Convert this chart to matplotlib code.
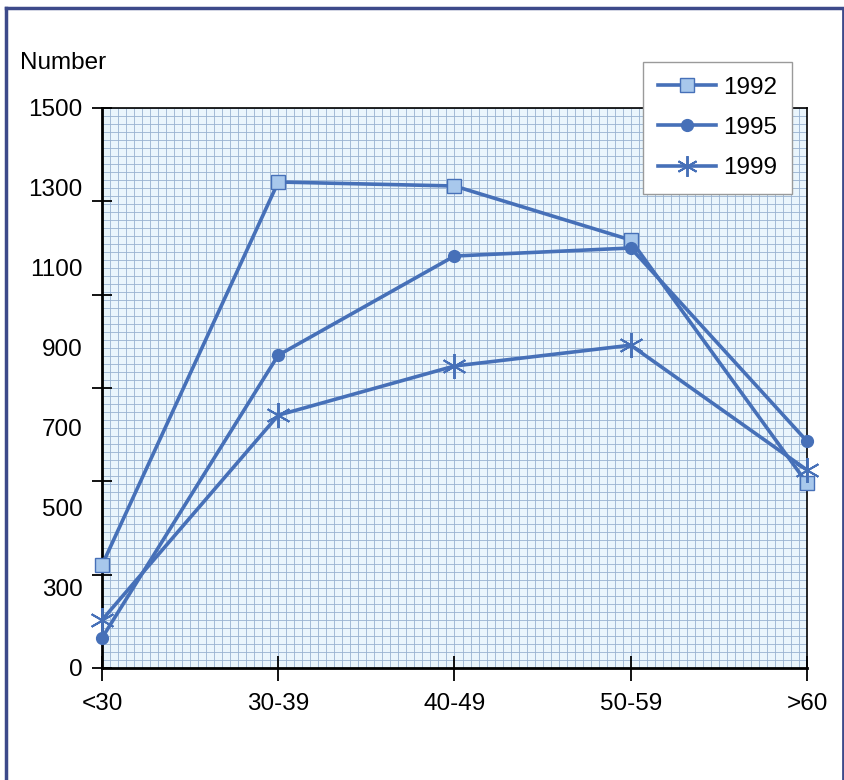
import numpy as np
import matplotlib.pyplot as plt
from matplotlib.lines import Line2D

plt.rcParams['font.family'] = ['Liberation Sans', 'DejaVu Sans']

# ---- data ----
age_groups = ['<30', '30-39', '40-49', '50-59', '>60']
n_1992 = [357, 1315, 1305, 1170, 562]
n_1995 = [175, 882, 1130, 1150, 667]
n_1999 = [220, 732, 855, 907, 595]
ytick_vals = [100, 300, 500, 700, 900, 1100, 1300, 1500]
ytick_labels = ['0', '300', '500', '700', '900', '1100', '1300', '1500']

LINE = '#4670b8'
GRIDC = '#98b2d0'
BG = '#eaf5fc'
FS = 17.5

fig = plt.figure(figsize=(8.45, 7.8), dpi=100)
ax = fig.add_axes([102/845, 1-668/780, 705/845, 560/780])
ax.set_xlim(0, len(age_groups)-1)
ax.set_ylim(100, 1500)
ax.set_facecolor(BG)

# fine graph-paper mesh
for gx in np.linspace(0, len(age_groups)-1, 89):
    ax.axvline(gx, color=GRIDC, lw=0.6, zorder=0)
for gy in np.linspace(100, 1500, 71):
    ax.axhline(gy, color=GRIDC, lw=0.6, zorder=0)

x = np.arange(len(age_groups))
ax.plot(x, n_1992, color=LINE, lw=2.6, marker='s', ms=10, mfc='#a8c8ec',
        mec=LINE, mew=1.0, zorder=4, clip_on=False, label='1992')
ax.plot(x, n_1995, color=LINE, lw=2.6, marker='o', ms=8.5, mfc=LINE,
        mec=LINE, zorder=4, clip_on=False, label='1995')
ax.plot(x, n_1999, color=LINE, lw=2.6, marker=(6, 2, 0), ms=18, mew=1.4,
        mec=LINE, zorder=4, clip_on=False, label='1999')

# axes frame
for s in ['left', 'bottom']:
    ax.spines[s].set_linewidth(2.0)
for s in ['top', 'right']:
    ax.spines[s].set_linewidth(1.2)

# ticks: marks on an even 6-step scale, labels on their own positions
ax.yaxis.remove_overlapping_locs = False
ax.set_yticks(np.linspace(100, 1500, 7))
ax.set_yticklabels([])
ax.set_yticks(ytick_vals, ytick_labels, minor=True)
ax.tick_params(axis='y', which='major', direction='inout', length=14, width=1.3)
ax.tick_params(axis='y', which='minor', length=0, pad=14, labelsize=FS)
ax.set_xticks(x, age_groups)
ax.tick_params(axis='x', direction='inout', length=18, width=1.3, pad=9, labelsize=FS)

fig.text(20/845, 1-63/780, 'Number', fontsize=FS, va='center', ha='left')

handles = [
    Line2D([], [], color=LINE, lw=2.6, marker='s', ms=10, mfc='#a8c8ec', mec=LINE),
    Line2D([], [], color=LINE, lw=2.6, marker='o', ms=8.5, mfc=LINE, mec=LINE),
    Line2D([], [], color=LINE, lw=2.6, marker=(6, 2, 0), ms=15, mew=1.4, mec=LINE),
]
leg = fig.legend(handles, ['1992', '1995', '1999'], loc='upper left',
                 bbox_to_anchor=(643/845, 1-62/780), fontsize=FS, frameon=True,
                 fancybox=False, edgecolor='#9a9a9a', framealpha=1,
                 handlelength=2.4, labelspacing=0.75, borderpad=0.6,
                 handletextpad=0.3, borderaxespad=0)
leg.get_frame().set_linewidth(1.0)
leg.set_zorder(10)

# outer navy border
bc = '#3d4a8a'
fig.add_artist(Line2D([6/845, 6/845], [0, 1-8/780], color=bc, lw=2.5))
fig.add_artist(Line2D([6/845, 843/845], [1-8/780, 1-8/780], color=bc, lw=2.5))
fig.add_artist(Line2D([843/845, 843/845], [0, 1-8/780], color=bc, lw=2.0))

fig.savefig('out.png', dpi=100)
